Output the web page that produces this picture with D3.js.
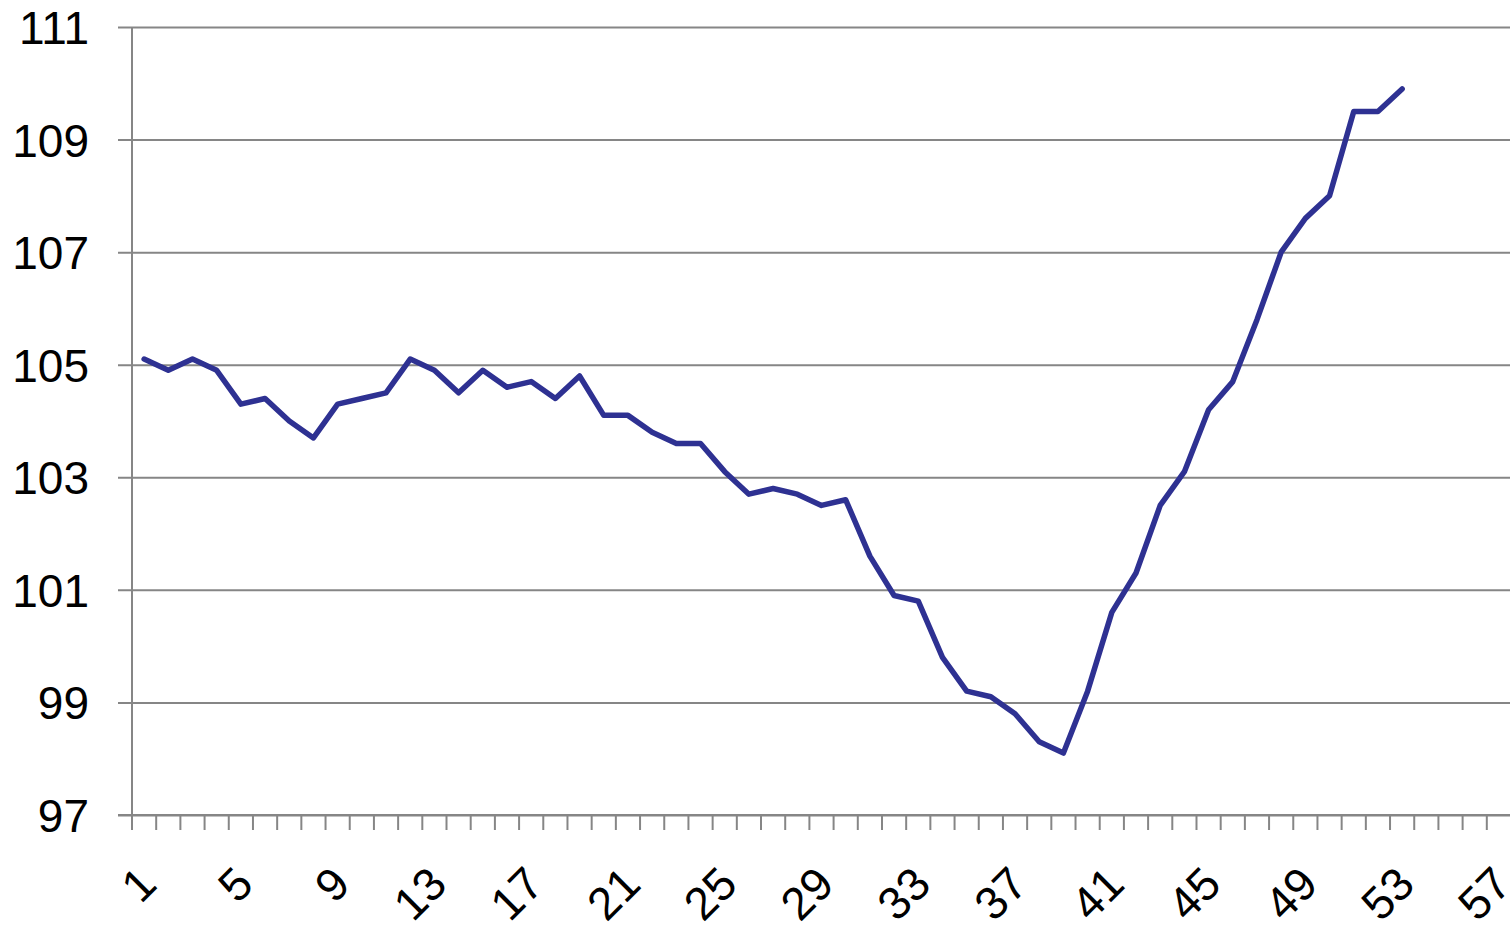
<!DOCTYPE html>
<html><head><meta charset="utf-8">
<script src="https://cdn.jsdelivr.net/npm/d3@7"></script>
<style>body{margin:0;background:#fff;} svg{display:block;}</style>
</head><body>
<script>
const categories = d3.range(1, 58).map(String);
const values = [105.1,104.9,105.1,104.9,104.3,104.4,104.0,103.7,104.3,104.4,
  104.5,105.1,104.9,104.5,104.9,104.6,104.7,104.4,104.8,104.1,
  104.1,103.8,103.6,103.6,103.1,102.7,102.8,102.7,102.5,102.6,
  101.6,100.9,100.8,99.8,99.2,99.1,98.8,98.3,98.1,99.2,
  100.6,101.3,102.5,103.1,104.2,104.7,105.8,107.0,107.6,108.0,
  109.5,109.5,109.9];
const yTicks = [97,99,101,103,105,107,109,111];
const xLabels = categories.filter((d,i)=> i%4===0);

const W=1510,H=926;
const m={left:132,right:-1,top:27,bottom:111};
const svg=d3.select("body").append("svg").attr("width",W).attr("height",H);
const x=d3.scaleBand().domain(categories).range([m.left,W-m.right]).paddingInner(0).paddingOuter(0);
const y=d3.scaleLinear().domain([97,111]).range([H-m.bottom,m.top]);
const grid="#868686";
const font="'Liberation Sans', Arial, sans-serif";

// gridlines + y axis
const ya=svg.append("g").attr("transform",`translate(${m.left},0)`)
  .call(d3.axisLeft(y).tickValues(yTicks).tickSize(-(W-m.left)).tickSizeOuter(0).tickPadding(43));
ya.select(".domain").remove();
ya.selectAll(".tick line").attr("stroke",grid).attr("stroke-width",2).attr("x1",-14);
ya.selectAll(".tick text").attr("font-family",font).attr("font-size",46).attr("fill","#000").attr("dy","0.36em");
svg.append("line").attr("x1",m.left).attr("x2",m.left).attr("y1",m.top).attr("y2",H-m.bottom)
  .attr("stroke",grid).attr("stroke-width",2);

// x axis
const xa=svg.append("g").attr("transform",`translate(0,${H-m.bottom})`);
xa.append("line").attr("x1",m.left-14).attr("x2",W).attr("stroke",grid).attr("stroke-width",2);
const edges=categories.map(c=>x(c)).concat([x(categories[categories.length-1])+x.bandwidth()]);
xa.selectAll("line.tk").data(edges).join("line").attr("class","tk")
  .attr("x1",d=>d).attr("x2",d=>d).attr("y1",0).attr("y2",15).attr("stroke",grid).attr("stroke-width",2);
xa.selectAll("text").data(xLabels).join("text")
  .attr("transform",d=>`translate(${x(d)+x.bandwidth()/2-8},${49}) rotate(-45)`)
  .attr("text-anchor","end").attr("dy","0.7em")
  .attr("font-family",font).attr("font-size",46).attr("fill","#000").text(d=>d);

// line
const line=d3.line().x((d,i)=>x(categories[i])+x.bandwidth()/2).y(d=>y(d));
svg.append("path").datum(values).attr("d",line).attr("fill","none")
  .attr("stroke","#2E3192").attr("stroke-width",5.5).attr("stroke-linejoin","round").attr("stroke-linecap","round");
</script>
</body></html>
